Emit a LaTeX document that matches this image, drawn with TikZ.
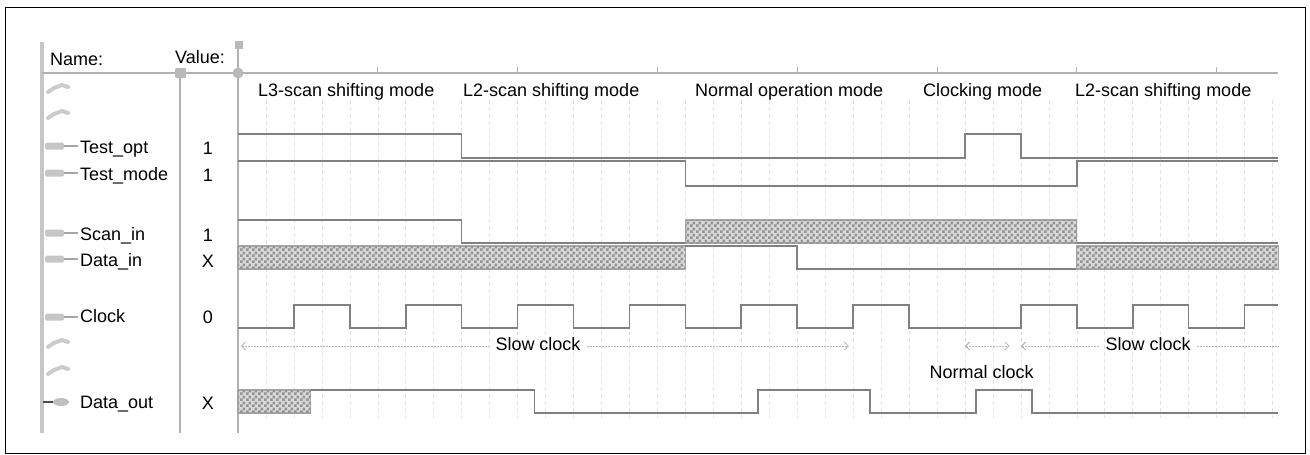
\documentclass[tikz,border=0pt]{standalone}
\usepackage{fontspec}
\setmainfont{Liberation Sans}
\usetikzlibrary{patterns,arrows.meta}

% checker pattern for unknown (X) states
\pgfdeclarepatternformonly{xchecker}{\pgfpointorigin}{\pgfqpoint{6pt}{6pt}}{\pgfqpoint{6pt}{6pt}}{
    \pgfpathrectangle{\pgfpointorigin}{\pgfqpoint{3pt}{3pt}}
    \pgfpathrectangle{\pgfqpoint{3pt}{3pt}}{\pgfqpoint{3pt}{3pt}}
    \pgfusepath{fill}}

\begin{document}
\begin{tikzpicture}[x=1pt, y=-1pt,
        lbl/.style={font=\fontsize{18}{20}\selectfont, inner sep=0pt},
        panel/.style={draw=gray!60, line width=1.6pt},
        wave/.style={draw=black!50, line width=1.6pt},
        gridline/.style={draw=gray!22, line width=0.6pt, dash pattern=on 4pt off 3pt},
        xstate/.style={fill=gray!30, draw=gray!70, line width=1.2pt,
            postaction={pattern=xchecker, pattern color=gray!85}},
        clkarrow/.style={draw=gray!55, line width=1pt, dash pattern=on 2pt off 1pt,
            >={Straight Barb[length=4pt, width=8pt]}}]

        \useasboundingbox (0,0) rectangle (1310,455);

        % Outer Frame
        \draw[line width=1pt] (5,7) rectangle (1305,453);

        % Panel Lines
        \draw[gray!45, line width=3.5pt] (42,42) -- (42,433);
        \draw[panel] (42,73) -- (1278,73);
        \draw[panel] (180,73) -- (180,433);
        \draw[panel] (238,42) -- (238,433);
        \fill[gray!55, rounded corners=1pt] (175,68) rectangle (186,78);
        \fill[gray!55] (235,41) rectangle (243,49);
        \fill[gray!55] (238,73) circle (5.5pt);

        % Header Texts
        \node[lbl, anchor=base west] (hdr-name) at (50,65) {Name:};
        \node[lbl, anchor=base west] (hdr-value) at (175,63) {Value:};

        % Mode Labels
        \foreach \xx/\txt/\id in {258/L3-scan shifting mode/ml3, 463/L2-scan shifting mode/ml2a,
                695/Normal operation mode/mnorm, 923/Clocking mode/mclk, 1075/L2-scan shifting mode/ml2b} {
            \node[lbl, anchor=base west] (\id) at (\xx,96) {\txt};
        }

        % Signal Names & Values
        \foreach \nm/\val/\yy/\id in {Test\_opt/1/153/topt, Test\_mode/1/180/tmode, Scan\_in/1/240/sin,
                Data\_in/X/266/din, Clock/0/322/clk, Data\_out/X/408/dout} {
            \node[lbl, anchor=base west] (name-\id) at (80,\yy) {\nm};
            \node[lbl, anchor=base] (val-\id) at (208,\yy+1) {\val};
        }

        % Row Icons
        \foreach \yy in {146,173,233,259,317} {
            \fill[gray!45, rounded corners=1.5pt] (45,\yy-3.5) rectangle (64,\yy+3.5);
            \draw[gray!70, line width=1.5pt] (64,\yy) -- (78,\yy);
        }
        \foreach \yy in {88,114,343,370} {
            \draw[gray!40, line width=4pt, line cap=round] (48,\yy+4) -- (54,\yy) -- (62,\yy-3) -- (68,\yy-1);
        }
        \draw[black!70, line width=1.5pt] (43,402) -- (54,402);
        \fill[gray!50] (61,402) ellipse (8pt and 4pt);

        \begin{scope}[shift={(238,0)}, x=27.96pt]
            % Background Grid
            \foreach \t in {1,...,37} {
                \draw[gridline] (\t,100) -- (\t,418);
            }
            \foreach \t in {5,10,...,35} {
                \draw[panel, line width=1pt] (\t,67) -- (\t,73);
            }

            % Test_opt
            \draw[wave] (0,134) -- (8,134) -- (8,158) -- (26,158) -- (26,134) -- (28,134) -- (28,158) -- (37.2,158);
            % Test_mode
            \draw[wave] (0,161) -- (16,161) -- (16,186) -- (30,186) -- (30,161) -- (37.2,161);
            % Scan_in
            \draw[wave] (0,220) -- (8,220) -- (8,243) -- (16,243);
            \path[xstate] (16,220) rectangle (30,243);
            \draw[wave] (30,243) -- (37.2,243);
            % Data_in
            \path[xstate] (0,246) rectangle (16,269);
            \draw[wave] (16,246) -- (20,246) -- (20,269) -- (30,269);
            \path[xstate] (30,246) rectangle (37.2,269);
            % Clock
            \draw[wave] (0,328) -| (2,305) -| (4,328) -| (6,305) -| (8,328) -| (10,305) -| (12,328)
                -| (14,305) -| (16,328) -| (18,305) -| (20,328) -| (22,305) -| (24,328) -| (28,305)
                -| (30,328) -| (32,305) -| (34,328) -| (36,305) -- (37.2,305);
            % Data_out
            \path[xstate] (0,390) rectangle (2.6,413);
            \draw[wave] (2.6,390) -| (10.6,413) -| (18.6,390) -| (22.6,413) -| (26.4,390) -| (28.4,413) -- (37.2,413);

            % Clock Annotations
            \coordinate (slowA-start) at (0.1,346);
            \coordinate (slowA-end) at (21.85,346);
            \node[lbl, anchor=base, inner xsep=6pt] (slowA) at (10.73,350) {Slow clock};
            \draw[clkarrow, <-] (slowA-start) -- (slowA.west |- slowA-start);
            \draw[clkarrow, ->] (slowA.east |- slowA-start) -- (slowA-end);

            \coordinate (norm-start) at (26.0,346);
            \coordinate (norm-end) at (27.6,346);
            \draw[clkarrow, <->] (norm-start) -- (norm-end);
            \node[lbl, anchor=base] (normclk) at (26.6,378) {Normal clock};

            \coordinate (slowB-start) at (28.0,346);
            \coordinate (slowB-end) at (37.2,346);
            \node[lbl, anchor=base, inner xsep=6pt] (slowB) at (32.55,350) {Slow clock};
            \draw[clkarrow, <-] (slowB-start) -- (slowB.west |- slowB-start);
            \draw[clkarrow] (slowB.east |- slowB-start) -- (slowB-end);
        \end{scope}
    \end{tikzpicture}
\end{document}
